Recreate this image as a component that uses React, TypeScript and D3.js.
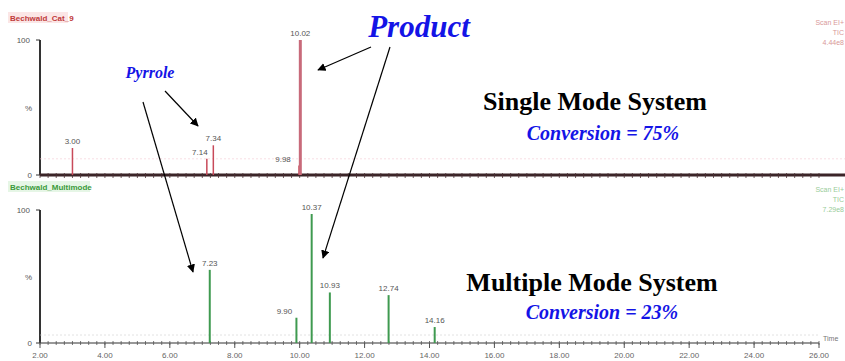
import React from "react";
import * as d3 from "d3";

const topTimes = [3.0, 7.14, 7.34, 9.98, 10.02];
const topHeights = [20, 12, 22, 7, 100];
const topLabels = ["3.00", "7.14", "7.34", "9.98", "10.02"];

const botTimes = [7.23, 9.9, 10.37, 10.93, 12.74, 14.16];
const botHeights = [55, 19, 97, 38, 36, 12];
const botLabels = ["7.23", "9.90", "10.37", "10.93", "12.74", "14.16"];

const xTickValues = [2, 4, 6, 8, 10, 12, 14, 16, 18, 20, 22, 24, 26];
const xTickLabels = ["2.00", "4.00", "6.00", "8.00", "10.00", "12.00", "14.00", "16.00", "18.00", "20.00", "22.00", "24.00", "26.00"];

const W = 845;
const H = 361;

export default function App() {
  const x = d3.scaleLinear().domain([2, 26]).range([40, 819]);
  const yTop = d3.scaleLinear().domain([0, 100]).range([175, 40]);
  const yBot = d3.scaleLinear().domain([0, 100]).range([343, 210]);
  const minor = d3.range(2, 26.01, 0.25);

  const peakLabelOffset = (lab: string) =>
    lab === "9.98" ? -16 : lab === "9.90" ? -12 : lab === "7.14" ? -7 : 0;
  const serif = "'Liberation Serif', 'Times New Roman', serif";

  return (
    <svg width={W} height={H} style={{ position: "absolute", left: 0, top: 0, background: "#fff" }}>
      <defs>
        <marker id="ah" viewBox="0 0 10 10" refX="9" refY="5" markerWidth="7" markerHeight="7" orient="auto">
          <path d="M0,0 L10,5 L0,10 z" fill="#000" />
        </marker>
      </defs>

      {/* Headers */}
      <rect x={8} y={12} width={60} height={11} fill="#fbe6e6" />
      <text x={10} y={21} fontFamily="Arial, sans-serif" fontSize={8} fontWeight="bold" fill="#c03a3a">Bechwald_Cat_9</text>
      <rect x={8} y={181} width={82} height={11} fill="#e6f6e6" />
      <text x={10} y={190} fontFamily="Arial, sans-serif" fontSize={8} fontWeight="bold" fill="#3a9a3a">Bechwald_Multimode</text>

      <g fontFamily="Arial, sans-serif" fontSize={7} textAnchor="end" fill="#d08080" opacity={0.8}>
        <text x={844} y={25}>Scan EI+</text>
        <text x={844} y={35}>TIC</text>
        <text x={844} y={45}>4.44e8</text>
      </g>
      <g fontFamily="Arial, sans-serif" fontSize={7} textAnchor="end" fill="#80c080" opacity={0.8}>
        <text x={844} y={192}>Scan EI+</text>
        <text x={844} y={202}>TIC</text>
        <text x={844} y={212}>7.29e8</text>
      </g>

      {/* top axes */}
      <g fontFamily="Arial, sans-serif" fontSize={8} fill="#555">
        <text x={30} y={yTop(100) + 3} textAnchor="end">100</text>
        <text x={32} y={yTop(50) + 3} textAnchor="end">%</text>
        <text x={32} y={yTop(0) + 3} textAnchor="end">0</text>
        <text x={30} y={yBot(100) + 3} textAnchor="end">100</text>
        <text x={32} y={yBot(50) + 3} textAnchor="end">%</text>
        <text x={32} y={yBot(0) + 3} textAnchor="end">0</text>
      </g>
      <line x1={x(2)} x2={x(2)} y1={yTop(100)} y2={yTop(0)} stroke="#333" strokeWidth={2} />
      <line x1={x(2) - 4} x2={x(2)} y1={yTop(100)} y2={yTop(100)} stroke="#333" strokeWidth={1} />
      <line x1={x(2) - 4} x2={x(2)} y1={yTop(0)} y2={yTop(0)} stroke="#333" strokeWidth={1} />
      <line x1={x(2)} x2={W} y1={yTop(0)} y2={yTop(0)} stroke="#3b2528" strokeWidth={3} />
      <line x1={x(2)} x2={W} y1={yTop(12)} y2={yTop(12)} stroke="#f4c8d0" strokeWidth={0.6} strokeDasharray="2,2" />
      {minor.map((t, i) => (
        <line key={"tt" + i} x1={x(t)} x2={x(t)} y1={yTop(0) - 2} y2={yTop(0) + 3} stroke="#4a3033" strokeWidth={0.8} />
      ))}

      {/* top peaks */}
      {topTimes.map((t, i) => (
        <g key={"tp" + i}>
          <line x1={x(t)} x2={x(t)} y1={yTop(0)} y2={yTop(topHeights[i])} stroke={i === 4 ? "#c86a7a" : "#c84a5a"} strokeWidth={i === 4 ? 3 : 1.5} />
          <text x={x(t) + peakLabelOffset(topLabels[i])} y={yTop(topHeights[i]) - 4} fontFamily="Arial, sans-serif" fontSize={8} textAnchor="middle" fill="#555">{topLabels[i]}</text>
        </g>
      ))}

      {/* bottom axes */}
      <line x1={x(2)} x2={x(2)} y1={yBot(100)} y2={yBot(0)} stroke="#333" strokeWidth={2} />
      <line x1={x(2) - 4} x2={x(2)} y1={yBot(100)} y2={yBot(100)} stroke="#333" strokeWidth={1} />
      <line x1={x(2) - 4} x2={x(2)} y1={yBot(0)} y2={yBot(0)} stroke="#333" strokeWidth={1} />
      <line x1={x(2)} x2={x(26)} y1={yBot(0)} y2={yBot(0)} stroke="#333" strokeWidth={1.2} />
      <line x1={x(2)} x2={x(26)} y1={yBot(6)} y2={yBot(6)} stroke="#ccc" strokeWidth={0.6} strokeDasharray="2,2" />
      {minor.map((t, i) => (
        <line key={"bt" + i} x1={x(t)} x2={x(t)} y1={yBot(0) - 2} y2={yBot(0) + 2} stroke="#555" strokeWidth={0.8} />
      ))}
      {xTickValues.map((t, i) => (
        <g key={"xl" + i}>
          <line x1={x(t)} x2={x(t)} y1={yBot(0)} y2={yBot(0) + 5} stroke="#555" strokeWidth={1} />
          <text x={x(t)} y={358} fontFamily="Arial, sans-serif" fontSize={8} textAnchor="middle" fill="#666">{xTickLabels[i]}</text>
        </g>
      ))}
      <text x={823} y={341} fontFamily="Arial, sans-serif" fontSize={7} fill="#777">Time</text>

      {/* bottom peaks */}
      {botTimes.map((t, i) => (
        <g key={"bp" + i}>
          <line x1={x(t)} x2={x(t)} y1={yBot(0)} y2={yBot(botHeights[i])} stroke="#3f9a50" strokeWidth={2} />
          <text x={x(t) + peakLabelOffset(botLabels[i])} y={yBot(botHeights[i]) - 4} fontFamily="Arial, sans-serif" fontSize={8} textAnchor="middle" fill="#555">{botLabels[i]}</text>
        </g>
      ))}

      {/* annotations */}
      <text x={419} y={37} fontFamily={serif} fontSize={31} fontWeight="bold" fontStyle="italic" fill="#1414e6" textAnchor="middle">Product</text>
      <text x={150} y={78} fontFamily={serif} fontSize={16} fontWeight="bold" fontStyle="italic" fill="#1414e6" textAnchor="middle">Pyrrole</text>

      <line x1={371} y1={47} x2={318} y2={70} stroke="#000" strokeWidth={1.2} markerEnd="url(#ah)" />
      <line x1={390} y1={47} x2={323} y2={258} stroke="#000" strokeWidth={1.2} markerEnd="url(#ah)" />
      <line x1={165} y1={91} x2={198} y2={126} stroke="#000" strokeWidth={1.2} markerEnd="url(#ah)" />
      <line x1={143} y1={102} x2={193} y2={272} stroke="#000" strokeWidth={1.2} markerEnd="url(#ah)" />

      <text x={595} y={110} fontFamily={serif} fontSize={26} fontWeight="bold" fill="#000" textAnchor="middle">Single Mode System</text>
      <text x={603} y={140} fontFamily={serif} fontSize={20} fontWeight="bold" fontStyle="italic" fill="#1414e6" textAnchor="middle">Conversion = 75%</text>
      <text x={592} y={291} fontFamily={serif} fontSize={26} fontWeight="bold" fill="#000" textAnchor="middle">Multiple Mode System</text>
      <text x={602} y={319} fontFamily={serif} fontSize={20} fontWeight="bold" fontStyle="italic" fill="#1414e6" textAnchor="middle">Conversion = 23%</text>
    </svg>
  );
}
